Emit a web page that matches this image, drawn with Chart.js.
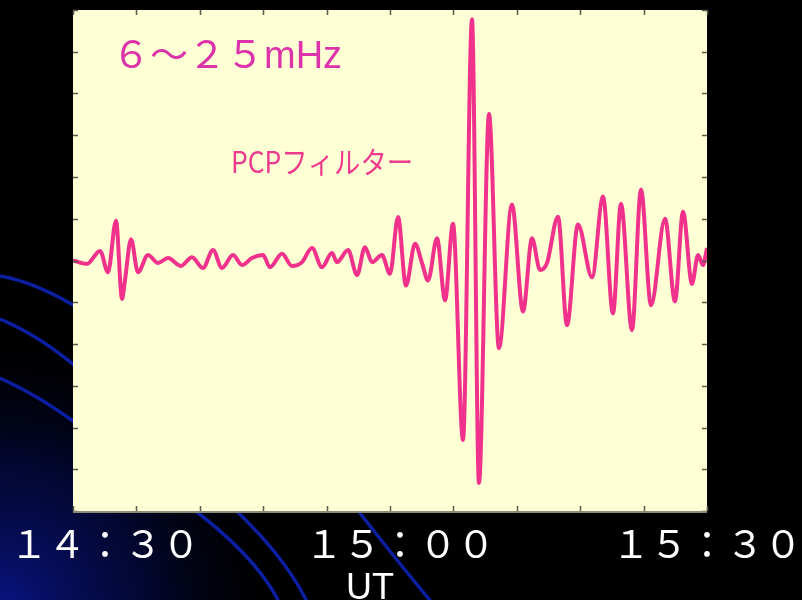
<!DOCTYPE html>
<html>
<head>
<meta charset="utf-8">
<script src="https://cdn.jsdelivr.net/npm/chart.js@4"></script>
<style>
  html, body { margin: 0; padding: 0; background: #000; }
  canvas { display: block; }
</style>
</head>
<body>
<canvas id="wave" width="802" height="600"></canvas>
<script>
// minutes after 14:30 UT
const times = [
  0.00, 1.32, 2.56, 3.31, 4.07, 4.64, 4.92, 5.49, 6.15, 7.10,
  8.04, 8.99, 10.22, 11.26, 12.30, 13.25, 14.10, 15.14, 15.99, 16.94,
  17.98, 18.64, 19.78, 20.72, 21.67, 22.62, 23.56, 24.51, 24.98, 26.03,
  26.88, 27.63, 28.30, 29.24, 30.00, 30.76, 31.51, 32.37, 33.03, 33.60,
  34.45, 35.21, 35.96, 36.91, 37.76, 38.42, 39.37, 40.31, 41.54, 42.59,
  43.44, 44.20, 44.86, 45.90, 46.75, 47.79, 49.12, 50.16, 51.10, 51.86,
  52.90, 53.75, 54.70, 56.03, 56.97, 57.73, 58.58, 59.15, 59.62, 60.00
];

// Pc filtered amplitude (arbitrary units)
const amplitude = [
  0.00, -0.08, 0.23, -0.28, 0.95, -0.92, -0.47, 0.51, -0.28, 0.13,
  -0.06, 0.06, -0.13, 0.08, -0.18, 0.25, -0.18, 0.13, -0.11, 0.06,
  0.13, -0.16, 0.16, -0.13, -0.04, 0.30, -0.16, 0.18, -0.04, 0.25,
  -0.35, 0.32, -0.04, 0.13, -0.32, 1.04, -0.60, 0.40, -0.06, -0.48,
  0.53, -0.95, 0.88, -4.30, 5.78, -5.33, 3.51, -2.10, 1.34, -1.22,
  0.53, -0.23, -0.06, 1.05, -1.55, 0.86, -0.40, 1.53, -1.27, 1.36,
  -1.67, 1.70, -1.07, 1.00, -0.98, 1.17, -0.56, 0.13, -0.11, 0.30
];

const xTickValues = [0, 30, 60];
const xTickLabels = ['１４：３０', '１５：００', '１５：３０'];
const titleText = '６～２５mHz';
const seriesLabel = 'PCPフィルター';
const axisTitle = 'UT';

const slideBackground = {
  id: 'slideBackground',
  beforeDraw(chart) {
    const ctx = chart.ctx;
    const w = chart.width, h = chart.height;
    ctx.save();
    ctx.fillStyle = '#000';
    ctx.fillRect(0, 0, w, h);
    const g = ctx.createRadialGradient(0, h + 10, 0, 0, h + 10, 290);
    g.addColorStop(0, 'rgba(8,20,130,1)');
    g.addColorStop(0.5, 'rgba(4,10,70,0.7)');
    g.addColorStop(1, 'rgba(0,0,0,0)');
    ctx.fillStyle = g;
    ctx.fillRect(0, 0, w, h);

    // decorative blue arcs of the slide template
    ctx.strokeStyle = '#0b1fa0';
    ctx.lineWidth = 3.5;
    const arcs = [
      [[0, 276], [37, 287], [80, 309]],
      [[0, 319], [40, 340], [80, 370]],
      [[0, 378], [40, 399], [80, 426]],
      [[185, 503], [245, 555], [280, 604]],
      [[228, 503], [277, 555], [308, 604]],
      [[352, 503], [393, 555], [433, 604]]
    ];
    arcs.forEach(([a, c, b]) => {
      ctx.beginPath();
      ctx.moveTo(a[0], a[1]);
      ctx.quadraticCurveTo(2 * c[0] - (a[0] + b[0]) / 2, 2 * c[1] - (a[1] + b[1]) / 2, b[0], b[1]);
      ctx.stroke();
    });

    const area = chart.chartArea;
    ctx.fillStyle = '#ffffd6';
    ctx.fillRect(area.left, area.top, area.right - area.left, area.bottom - area.top);
    ctx.restore();
  },
  afterDatasetsDraw(chart) {
    const ctx = chart.ctx;
    const area = chart.chartArea;
    const xs = chart.scales.x, ys = chart.scales.y;
    ctx.save();
    ctx.strokeStyle = '#5a5a4a';
    ctx.lineWidth = 1.5;
    const len = 5;
    xs.ticks.forEach(t => {
      const px = Math.round(xs.getPixelForValue(t.value)) + 0.5;
      ctx.beginPath();
      ctx.moveTo(px, area.top); ctx.lineTo(px, area.top + len);
      ctx.moveTo(px, area.bottom); ctx.lineTo(px, area.bottom - len);
      ctx.stroke();
    });
    ys.ticks.forEach(t => {
      const py = Math.round(ys.getPixelForValue(t.value)) + 0.5;
      ctx.beginPath();
      ctx.moveTo(area.left, py); ctx.lineTo(area.left + len, py);
      ctx.moveTo(area.right, py); ctx.lineTo(area.right - len, py);
      ctx.stroke();
    });
    ctx.strokeStyle = '#8a8a78';
    ctx.lineWidth = 2;
    ctx.beginPath();
    ctx.moveTo(area.left, area.bottom + 1);
    ctx.lineTo(area.right, area.bottom + 1);
    ctx.stroke();

    // frequency band and filter name
    ctx.fillStyle = '#dc32aa';
    ctx.font = '38px "Liberation Sans", "Noto Sans CJK JP"';
    ctx.textBaseline = 'alphabetic';
    ctx.textAlign = 'left';
    ctx.fillText(titleText, 112, 68);

    ctx.fillStyle = '#ee3a8c';
    ctx.font = '30px "Noto Sans CJK JP"';
    ctx.save();
    ctx.translate(231, 173);
    ctx.scale(0.88, 1);
    ctx.fillText(seriesLabel, 0, 0);
    ctx.restore();

    // time labels under the axis
    ctx.fillStyle = '#fff';
    ctx.font = '38px "Noto Sans CJK JP"';
    ctx.textAlign = 'center';
    const labelOffset = 10;
    xTickValues.forEach((v, i) => {
      const tw = ctx.measureText(xTickLabels[i]).width;
      let cx = xs.getPixelForValue(v) + labelOffset;
      cx = Math.min(Math.max(cx, tw / 2 + 10), chart.width - tw / 2);
      ctx.fillText(xTickLabels[i], cx, 558);
    });
    ctx.font = '36px "Liberation Sans"';
    ctx.fillText(axisTitle, 370, 599);
    ctx.restore();
  }
};

new Chart(document.getElementById('wave'), {
  type: 'line',
  data: {
    datasets: [{
      label: seriesLabel,
      data: times.map((t, i) => ({ x: t, y: amplitude[i] })),
      borderColor: '#f0328c',
      borderWidth: 4,
      pointRadius: 0,
      fill: false,
      cubicInterpolationMode: 'monotone'
    }]
  },
  options: {
    responsive: false,
    animation: false,
    layout: { padding: { left: 73, top: 10, right: 95, bottom: 89 } },
    plugins: {
      legend: { display: false },
      tooltip: { enabled: false }
    },
    scales: {
      x: {
        type: 'linear',
        display: false,
        min: 0,
        max: 60,
        ticks: { stepSize: 6 }
      },
      y: {
        display: false,
        min: -6,
        max: 6,
        ticks: { stepSize: 1 }
      }
    }
  },
  plugins: [slideBackground]
});
</script>
</body>
</html>
